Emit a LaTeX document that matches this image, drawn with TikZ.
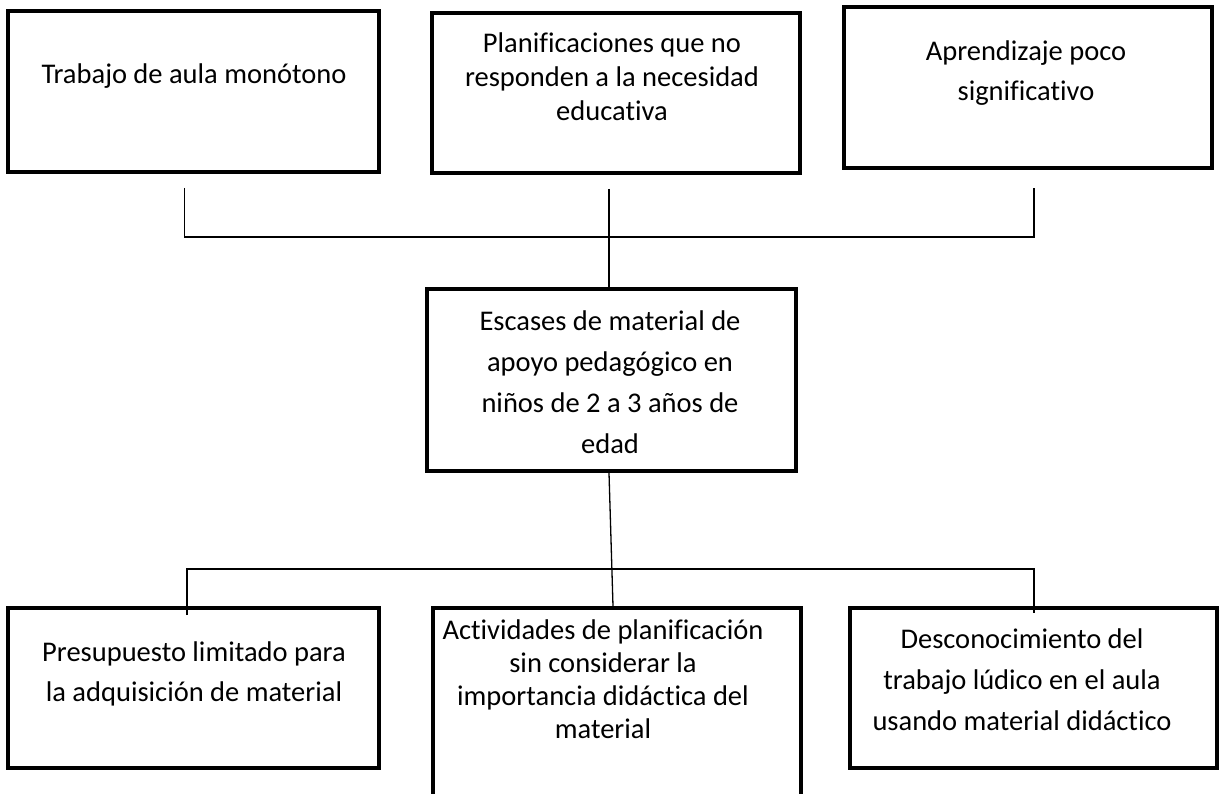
\documentclass[tikz,border=0pt]{standalone}
\usepackage{fontspec}
\setmainfont{Carlito}[Ligatures={NoCommon,NoContextual}]
\begin{document}
\begin{tikzpicture}[x=1pt,y=-1pt,
  box/.style={draw=black, line width=3.8pt, inner sep=0pt},
  txt/.style={align=center, inner sep=0pt, anchor=north, font=\fontsize{28.5}{40}\selectfont},
  txs/.style={txt, font=\fontsize{28.5}{34}\selectfont},
  conn/.style={draw=black, line width=1.3pt}]
\useasboundingbox[fill=white] (0,0) rectangle (1227,794);

% boxes
\node[box, minimum width=371pt, minimum height=161pt] (b1) at (193.5,91.4) {};
\node[box, minimum width=368pt, minimum height=160pt] (b2) at (616,92.9) {};
\node[box, minimum width=368pt, minimum height=161pt] (b3) at (1028,87.5) {};
\node[box, minimum width=369pt, minimum height=182pt] (bc) at (611.5,380) {};
\node[box, minimum width=371pt, minimum height=160pt] (b4) at (193.5,688) {};
\node[box, minimum width=368pt, minimum height=188pt] (b5) at (617,702) {};
\node[box, minimum width=367pt, minimum height=160pt] (b6) at (1033.5,688) {};

% texts
\node[txt] (t1) at (194,58) {\rule{0pt}{25pt}Trabajo de aula monótono};
\node[txs] (t2) at (612,27) {\rule{0pt}{25pt}Planif\kern0pt icaciones que no\\responden a la necesidad\\educativa};
\node[txt] (t3) at (1026,35) {\rule{0pt}{25pt}Aprendizaje poco\\signif\kern0pt icat\kern0pt ivo};
\node[txt, font=\fontsize{28.5}{41}\selectfont] (tc) at (610,305) {\rule{0pt}{25pt}Escases de material de\\apoyo pedagógico en\\niños de 2 a 3 años de\\edad};
\node[txt] (t4) at (194,636) {\rule{0pt}{25pt}Presupuesto limitado para\\la adquisición de material};
\node[txt, font=\fontsize{28.5}{33}\selectfont] (t5) at (603,614) {\rule{0pt}{25pt}Act\kern0pt ividades de planif\kern0pt icación\\sin considerar la\\importancia didáct\kern0pt ica del\\material};
\node[txt, font=\fontsize{28.5}{41}\selectfont] (t6) at (1022,623) {\rule{0pt}{25pt}Desconocimiento del\\trabajo lúdico en el aula\\usando material didáct\kern0pt ico};

% connector points
\coordinate (u1) at (184.5,188);
\coordinate (u1b) at (184.5,237);
\coordinate (u2) at (609,189);
\coordinate (u2b) at (609,237);
\coordinate (u3) at (1034,188);
\coordinate (u3b) at (1034,237);
\coordinate (l1) at (187,569);
\coordinate (l1e) at (187,615);
\coordinate (l3) at (1034,569);
\coordinate (l3e) at (1034,613);

% connectors
\draw[conn] (u1) -- (u1b) -- (u3b) -- (u3);
\draw[conn] (u2) -- (u2b) -- (u2b |- bc.north);
\draw[conn] ([xshift=-2.5pt]bc.south) -- ([xshift=-4pt]b5.north);
\draw[conn] (l1e) -- (l1) -- (l3) -- (l3e);
\end{tikzpicture}
\end{document}
